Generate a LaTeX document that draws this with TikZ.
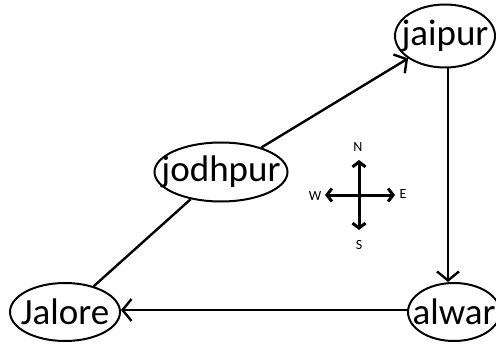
\documentclass[tikz,border=0pt]{standalone}
\usepackage{fontspec}
\setmainfont{Carlito}
\usetikzlibrary{shapes.geometric,arrows.meta}
\newcommand{\cityname}[1]{\makebox[0pt]{#1}}
\begin{document}
\begin{tikzpicture}[x=1pt,y=-1pt,
  city/.style={ellipse,draw,line width=2pt,inner sep=0pt,font=\fontsize{37}{40}\selectfont},
  link/.style={line width=2.4pt},
  flow/.style={link,-{Straight Barb[length=9pt,width=22pt,line width=2.4pt]}},
  compass/.style={line width=3pt,{Straight Barb[length=5pt,width=13pt,line width=3pt]}-{Straight Barb[length=5pt,width=13pt,line width=3pt]}},
  dir/.style={font=\fontsize{14}{15}\selectfont,inner sep=0pt}]
\useasboundingbox (0,0) rectangle (496,345);
\fill[white] (0,0) rectangle (496,345);

% cities: the names spill over the outlines, so the text takes no width
\node[city,minimum width=100pt,minimum height=63pt] (jaipur) at (445,36) {\cityname{jaipur}};
\node[city,minimum width=133pt,minimum height=59pt] (jodhpur) at (221,172) {\cityname{jodhpur}};
\node[city,minimum width=110pt,minimum height=58pt] (jalore) at (65,312) {\cityname{Jalore}};
\node[city,minimum width=92pt,minimum height=58pt] (alwar) at (454,312) {\cityname{alwar}};

% routes
\draw[link] (jalore) -- (jodhpur);
\draw[flow] (jodhpur) -- (jaipur);
\draw[flow] (jaipur.south -| 448,0) -- (alwar.north -| 448,0);
\draw[flow] (alwar.west |- 0,310) -- (jalore.east |- 0,310);

% compass rose
\coordinate (cN) at (359,160);
\coordinate (cS) at (359,230);
\coordinate (cW) at (325,195);
\coordinate (cE) at (395,195);
\draw[compass] (cS) -- (cN);
\draw[compass] (cW) -- (cE);
\node[dir] (lN) at (358,147) {N};
\node[dir] (lS) at (359,245) {S};
\node[dir] (lW) at (315,196) {W};
\node[dir] (lE) at (403,194) {E};
\end{tikzpicture}
\end{document}
